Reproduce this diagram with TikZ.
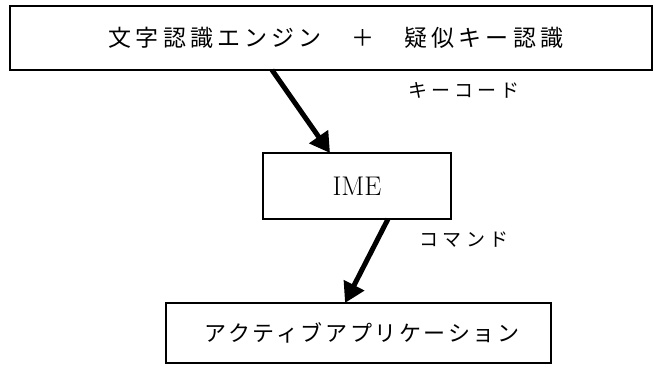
\documentclass[tikz,border=0pt]{standalone}
\usepackage{fontspec}
\newfontfamily\jp{Noto Sans CJK JP}[LetterSpace=12]
\newfontfamily\jpt{Noto Sans CJK JP}[LetterSpace=18]
\newfontfamily\jpw{Noto Sans CJK JP}[LetterSpace=22]
\usetikzlibrary{arrows.meta}
\tikzset{
  box/.style={draw=black, line width=1.6pt, inner sep=0pt},
  lbl/.style={font=\fontsize{22}{26}\selectfont\jp, inner sep=0pt},
  toplbl/.style={font=\fontsize{23}{26}\selectfont\jpt, inner sep=0pt},
  small/.style={font=\fontsize{19}{22}\selectfont\jpw, inner sep=0pt},
  flow/.style={line width=5pt, -{Triangle[length=20pt,width=22pt]}, shorten >=0pt}
}
\begin{document}
\begin{tikzpicture}[x=1pt,y=-1pt]
\useasboundingbox (0,0) rectangle (662,365);
\draw[box] (10,6) rectangle (652,70);
\node[toplbl] (top) at (336,38) {文字認識エンジン\hspace{1.3em}＋\hspace{1.3em}疑似キー認識};
\coordinate (topb) at (272,70);
\draw[box] (263,153) rectangle (451,219);
\node[font=\fontsize{27}{30}\selectfont, inner sep=0pt] (ime) at (357,186) {IME};
\coordinate (imet) at (330,153);
\coordinate (imeb) at (388,219);
\draw[box] (166,303) rectangle (551,363);
\node[lbl] (app) at (362,333) {アクティブアプリケーション};
\coordinate (appt) at (345,303);
\draw[flow] (topb) -- (imet);
\draw[flow] (imeb) -- (appt);
\node[small] (kc) at (464,90) {キーコード};
\node[small] (cmd) at (464,240) {コマンド};
\end{tikzpicture}
\end{document}
